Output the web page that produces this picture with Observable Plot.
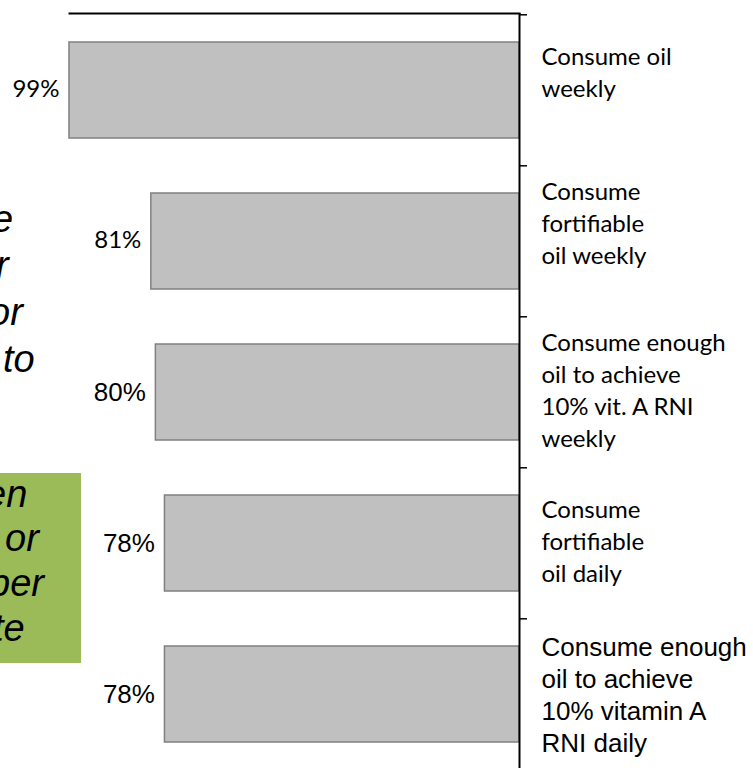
<!DOCTYPE html>
<html>
<head>
<meta charset="utf-8">
<script src="https://cdn.jsdelivr.net/npm/d3@7"></script>
<script src="https://cdn.jsdelivr.net/npm/@observablehq/plot@0.6"></script>
<style>
html, body { margin: 0; padding: 0; background: #fff; overflow: hidden; }
#wrap { position: relative; width: 753px; height: 768px; overflow: hidden; }
#chart { position: absolute; left: 0; top: 0; }
.note { position: absolute; font-family: "Liberation Sans", Arial, sans-serif; font-style: italic; font-size: 38px; color: #000; white-space: nowrap; }
.note .ln { display: block; }
#note1 { left: 0; top: 195.5px; line-height: 46.7px; }
#note2 { left: 0; top: 473px; width: 81px; height: 190px; background: #9bbb59; overflow: hidden; line-height: 44.7px; }
#note2 .inner { position: relative; top: -1.5px; }
</style>
</head>
<body>
<div id="wrap">
  <div id="chart"></div>
  <div id="note1" class="note"><span class="ln" style="margin-left:-8px">e</span><span class="ln" style="margin-left:-4px">r</span><span class="ln" style="margin-left:-11px">or</span><span class="ln" style="margin-left:3px">to</span></div>
  <div id="note2" class="note"><div class="inner"><span class="ln" style="margin-left:-15px">en</span><span class="ln" style="margin-left:5px">or</span><span class="ln" style="margin-left:-11px">per</span><span class="ln" style="margin-left:-7px">te</span></div></div>
</div>
<script>
const categories = [
  "Consume oil\nweekly\n",
  "Consume\nfortifiable\noil weekly\n",
  "Consume enough\noil to achieve\n10% vit. A RNI\nweekly",
  "Consume\nfortifiable\noil daily",
  "Consume enough\noil to achieve\n10% vitamin A\nRNI daily"
];
const values = [99, 81, 80, 78, 78];

const data = categories.map((label, i) => ({label, value: values[i]}));

const W = 753, H = 770, mt = 13, mb = 0, ml = 69, mr = 234;
const padInner = 0.365;
const step = (H - mt - mb) / categories.length;

const chart = Plot.plot({
  width: W,
  height: H,
  marginTop: mt,
  marginBottom: mb,
  marginLeft: ml,
  marginRight: mr,
  style: {background: "transparent", color: "#000"},
  x: {domain: [0, d3.max(values)], reverse: true, axis: null},
  y: {domain: categories, paddingInner: padInner, paddingOuter: padInner / 2, axis: null},
  marks: [
    Plot.barX(data, {x1: 0, x2: "value", y: "label", fill: "#c0c0c0", stroke: "#808080", strokeWidth: 1.5}),
    Plot.ruleY(data, {y: "label", x1: 0, x2: 0, dy: -step / 2, insetRight: -8, stroke: "#000", strokeWidth: 1.5}),
    Plot.frame({anchor: "top", stroke: "#000", strokeWidth: 2}),
    Plot.ruleX([0], {stroke: "#000", strokeWidth: 2}),
    Plot.text(data, {filter: (d, i) => i < 2, x: "value", y: "label", text: d => d.value + "%", textAnchor: "end", dx: -10, dy: -1, fontFamily: "Lato", fontSize: 24, fill: "#000"}),
    Plot.text(data, {filter: (d, i) => i >= 2, x: "value", y: "label", text: d => d.value + "%", textAnchor: "end", dx: -10, fontFamily: "Liberation Sans", fontSize: 26, fill: "#000"}),
    Plot.text(data, {filter: (d, i) => i < 4, x: 0, y: "label", text: "label", textAnchor: "start", dx: 22, dy: -3.5, lineHeight: 1.333, fontFamily: "Lato", fontSize: 24, fill: "#000"}),
    Plot.text(data, {filter: (d, i) => i === 4, x: 0, y: "label", text: "label", textAnchor: "start", dx: 22, dy: -1, lineHeight: 1.23, fontFamily: "Liberation Sans", fontSize: 26, fill: "#000"})
  ]
});
document.getElementById("chart").appendChild(chart);
</script>
</body>
</html>
